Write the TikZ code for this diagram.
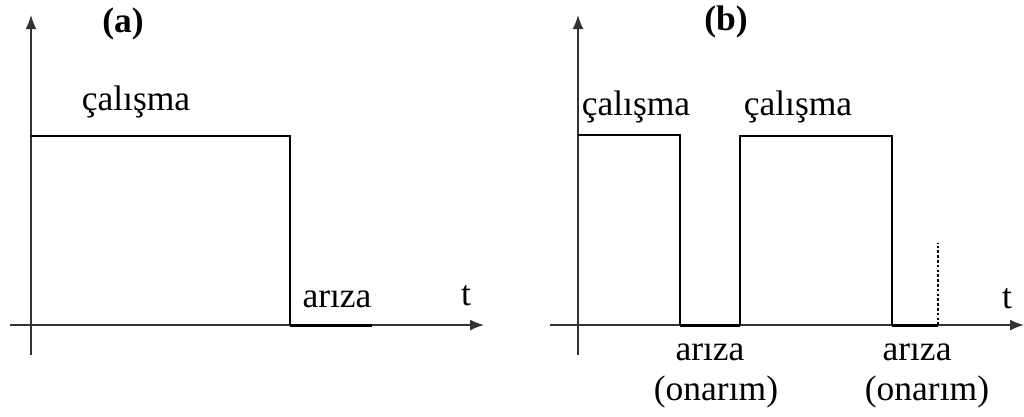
\documentclass[tikz,border=0pt]{standalone}
\usepackage{fontspec}
\setmainfont{Liberation Serif}
\usetikzlibrary{arrows.meta}
\tikzset{
  axisline/.style={line width=1.6pt, black!80, -{Latex[length=14pt,width=11pt]}},
  signal/.style={line width=2pt, black},
  downtime/.style={line width=3pt, black},
  marker/.style={line width=2.6pt, black, dash pattern=on 2.6pt off 2.2pt},
  lbl/.style={anchor=base, inner sep=0pt, font=\fontsize{35.5}{40}\selectfont},
  title/.style={lbl, font=\fontsize{35.5}{40}\selectfont\bfseries}
}
\begin{document}
\begin{tikzpicture}[x=1pt, y=-1pt]
\useasboundingbox (0,0) rectangle (1024,416);

% ---- (a) single failure, no repair ----
\coordinate (ay0) at (31,355);
\coordinate (ay1) at (31,15);
\coordinate (ax0) at (10,325);
\coordinate (ax1) at (484,325);
\draw[axisline] (ay0) -- (ay1);
\draw[axisline] (ax0) -- (ax1);
\coordinate (a1) at (31,136);
\coordinate (a2) at (290,136);
\coordinate (a3) at (290,325);
\coordinate (a4) at (372,325);
\draw[signal] (a1) -- (a2) -- (a3);
\draw[downtime] (a3) -- (a4);
\node[title] (ta) at (123,32) {(a)};
\node[lbl] (runa) at (136,110) {çalışma};
\node[lbl] (faila) at (337,307) {arıza};
\node[lbl] (timea) at (466,305) {t};

% ---- (b) failures followed by repair ----
\coordinate (by0) at (578,355);
\coordinate (by1) at (578,15);
\coordinate (bx0) at (550,325);
\coordinate (bx1) at (1024,325);
\draw[axisline] (by0) -- (by1);
\draw[axisline] (bx0) -- (bx1);
\coordinate (b1) at (578,135);
\coordinate (b2) at (680,135);
\coordinate (b3) at (680,325);
\coordinate (b4) at (740,325);
\coordinate (b5) at (740,136);
\coordinate (b6) at (892,136);
\coordinate (b7) at (892,325);
\coordinate (b8) at (938,325);
\coordinate (b9) at (938,243);
\draw[signal] (b1) -- (b2) -- (b3);
\draw[downtime] (b3) -- (b4);
\draw[signal] (b4) -- (b5) -- (b6) -- (b7);
\draw[downtime] (b7) -- (b8);
\draw[marker] (b8) -- (b9);
\node[title] (tb) at (726,30) {(b)};
\node[lbl] (runb1) at (636,115) {çalışma};
\node[lbl] (runb2) at (798,115) {çalışma};
\node[lbl] (timeb) at (1007,308) {t};
\node[lbl] (failb1) at (710,360) {arıza};
\node[lbl] (repb1) at (716,400) {(onarım)};
\node[lbl] (failb2) at (917,360) {arıza};
\node[lbl] (repb2) at (927,400) {(onarım)};
\end{tikzpicture}
\end{document}
